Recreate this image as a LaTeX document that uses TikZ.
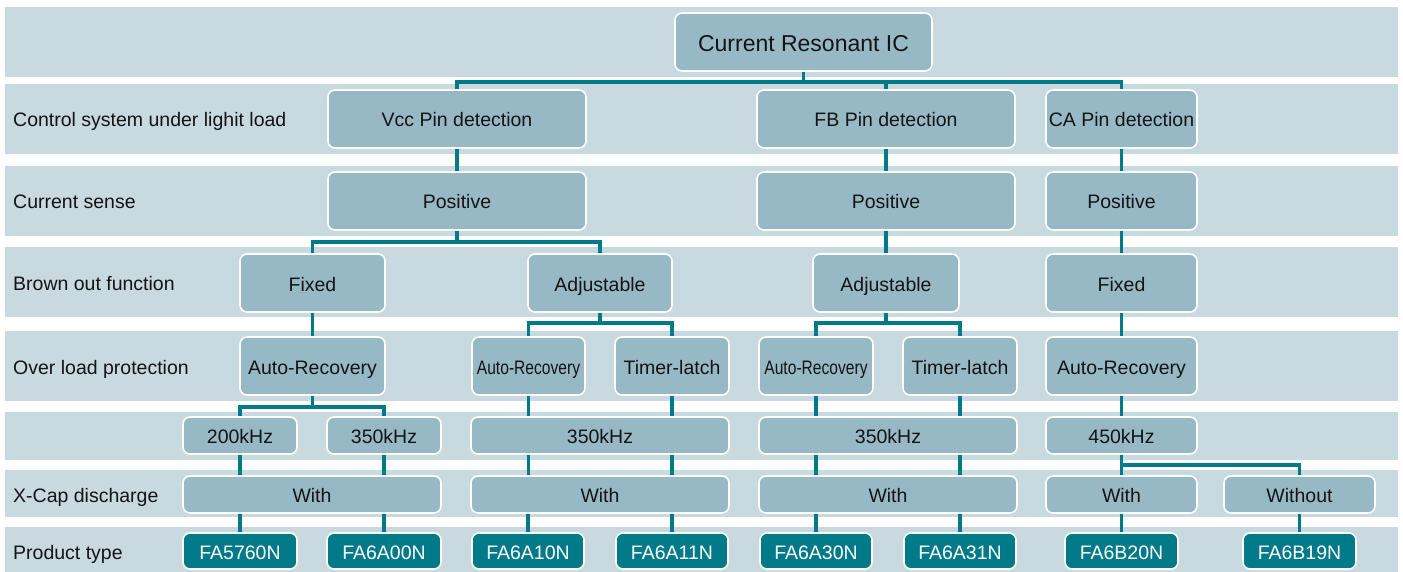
\documentclass[tikz,border=0pt]{standalone}
\usepackage{fontspec}
\usepackage{graphicx}
\setmainfont{Liberation Sans}
\definecolor{bandc}{HTML}{C8D9E0}
\definecolor{boxc}{HTML}{97B9C5}
\definecolor{teal}{HTML}{007A88}
\definecolor{txt}{HTML}{141414}
\tikzset{
  band/.style={fill=bandc, draw=none},
  box/.style={draw=white, line width=1.6pt, fill=boxc, rounded corners=7pt, inner sep=0pt, text=txt, font=\fontsize{19.5}{22}\selectfont, text height=19pt, text depth=3pt},
  prod/.style={draw=white, line width=1.6pt, fill=teal, rounded corners=7pt, inner sep=0pt, text=white, font=\fontsize{19.5}{22}\selectfont, minimum height=36pt, text height=19pt, text depth=3pt},
  conn/.style={draw=teal, line width=3.6pt},
  lbl/.style={anchor=base west, inner sep=0pt, text=txt, font=\fontsize{19.5}{22}\selectfont},
  rowa/.style={minimum height=58pt},
  rowb/.style={minimum height=37pt},
}
\newcommand{\narrow}[1]{\scalebox{0.8}[1]{#1}}
\begin{document}
\begin{tikzpicture}[x=1pt,y=-1pt]
\useasboundingbox (0,0) rectangle (1403,572);
% bands
\fill[band] (5,7) rectangle (1398,77);
\fill[band] (5,84) rectangle (1398,154);
\fill[band] (5,166) rectangle (1398,236);
\fill[band] (5,247) rectangle (1398,317);
\fill[band] (5,331) rectangle (1398,401);
\fill[band] (5,412) rectangle (1398,460);
\fill[band] (5,470) rectangle (1398,517);
\fill[band] (5,527) rectangle (1398,572);
% row labels
\node[lbl] (l1) at (13,127) {Control system under lighit load};
\node[lbl] (l2) at (13,209) {Current sense};
\node[lbl] (l3) at (13,290) {Brown out function};
\node[lbl] (l4) at (13,374) {Over load protection};
\node[lbl] (l5) at (13,502) {X-Cap discharge};
\node[lbl] (l6) at (13,559) {Product type};
% nodes
\node[box, rowa, minimum width=257pt, font=\fontsize{23}{26}\selectfont, text height=22pt, text depth=2pt] (root) at (803.5,42) {Current Resonant IC};
\node[box, rowa, minimum width=258pt] (vcc) at (457,119) {Vcc Pin detection};
\node[box, rowa, minimum width=258pt] (fb) at (886,119) {FB Pin detection};
\node[box, rowa, minimum width=151pt] (ca) at (1121.5,119) {CA Pin detection};
\node[box, rowa, minimum width=258pt] (pos1) at (457,201) {Positive};
\node[box, rowa, minimum width=258pt] (pos2) at (886,201) {Positive};
\node[box, rowa, minimum width=151pt] (pos3) at (1121.5,201) {Positive};
\node[box, rowa, minimum width=145pt] (fix1) at (312.5,283) {Fixed};
\node[box, rowa, minimum width=144pt] (adj1) at (600,283) {Adjustable};
\node[box, rowa, minimum width=146pt] (adj2) at (886,283) {Adjustable};
\node[box, rowa, minimum width=151pt] (fix2) at (1121.5,283) {Fixed};
\node[box, rowa, minimum width=145pt] (ar1) at (312.5,366) {Auto-Recovery};
\node[box, rowa, minimum width=113pt] (ar2) at (528.5,366) {\narrow{Auto-Recovery}};
\node[box, rowa, minimum width=114pt] (tl1) at (672,366) {Timer-latch};
\node[box, rowa, minimum width=114pt] (ar3) at (816,366) {\narrow{Auto-Recovery}};
\node[box, rowa, minimum width=114pt] (tl2) at (960,366) {Timer-latch};
\node[box, rowa, minimum width=151pt] (ar4) at (1121.5,366) {Auto-Recovery};
\node[box, rowb, minimum width=114pt] (f1) at (240,435.5) {200kHz};
\node[box, rowb, minimum width=114pt] (f2) at (384,435.5) {350kHz};
\node[box, rowb, minimum width=258pt] (f3) at (600,435.5) {350kHz};
\node[box, rowb, minimum width=258pt] (f4) at (888,435.5) {350kHz};
\node[box, rowb, minimum width=151pt] (f5) at (1121.5,435.5) {450kHz};
\node[box, rowb, minimum width=258pt] (x1) at (312,494.5) {With};
\node[box, rowb, minimum width=258pt] (x2) at (600,494.5) {With};
\node[box, rowb, minimum width=258pt] (x3) at (888,494.5) {With};
\node[box, rowb, minimum width=151pt] (x4) at (1121.5,494.5) {With};
\node[box, rowb, minimum width=151pt] (x5) at (1299.5,494.5) {Without};
\node[prod, minimum width=114pt] (p1) at (240,551) {FA5760N};
\node[prod, minimum width=114pt] (p2) at (384,551) {FA6A00N};
\node[prod, minimum width=112pt] (p3) at (528,551) {FA6A10N};
\node[prod, minimum width=112pt] (p4) at (672,551) {FA6A11N};
\node[prod, minimum width=112pt] (p5) at (816,551) {FA6A30N};
\node[prod, minimum width=112pt] (p6) at (960,551) {FA6A31N};
\node[prod, minimum width=113pt] (p7) at (1121.5,551) {FA6B20N};
\node[prod, minimum width=113pt] (p8) at (1299.5,551) {FA6B19N};
% bus coordinates
\coordinate (b1) at (0,82);
\coordinate (b2) at (0,242);
\coordinate (b3) at (0,323);
\coordinate (b4) at (0,407);
\coordinate (b5) at (0,465);
% connectors
\draw[conn] (root.south) -- (root.south|-b1);
\draw[conn] (vcc.north) -- (vcc.north|-b1) -- (ca.north|-b1) -- (ca.north);
\draw[conn] (fb.north) -- (fb.north|-b1);
\draw[conn] (vcc.south) -- (pos1.north);
\draw[conn] (fb.south) -- (pos2.north);
\draw[conn] (ca.south) -- (pos3.north);
\draw[conn] (pos1.south) -- (pos1.south|-b2);
\draw[conn] (fix1.north) -- (fix1.north|-b2) -- (adj1.north|-b2) -- (adj1.north);
\draw[conn] (pos2.south) -- (adj2.north);
\draw[conn] (pos3.south) -- (fix2.north);
\draw[conn] (fix1.south) -- (ar1.north);
\draw[conn] (adj1.south) -- (adj1.south|-b3);
\draw[conn] (ar2.north) -- (ar2.north|-b3) -- (tl1.north|-b3) -- (tl1.north);
\draw[conn] (adj2.south) -- (adj2.south|-b3);
\draw[conn] (ar3.north) -- (ar3.north|-b3) -- (tl2.north|-b3) -- (tl2.north);
\draw[conn] (fix2.south) -- (ar4.north);
\draw[conn] (ar1.south) -- (ar1.south|-b4);
\draw[conn] (f1.north) -- (f1.north|-b4) -- (f2.north|-b4) -- (f2.north);
\draw[conn] (ar2.south) -- (ar2.south|-f3.north);
\draw[conn] (tl1.south) -- (tl1.south|-f3.north);
\draw[conn] (ar3.south) -- (ar3.south|-f4.north);
\draw[conn] (tl2.south) -- (tl2.south|-f4.north);
\draw[conn] (ar4.south) -- (f5.north);
\draw[conn] (f1.south) -- (f1.south|-x1.north);
\draw[conn] (f2.south) -- (f2.south|-x1.north);
\draw[conn] (ar2.south|-f3.south) -- (ar2.south|-x2.north);
\draw[conn] (tl1.south|-f3.south) -- (tl1.south|-x2.north);
\draw[conn] (ar3.south|-f4.south) -- (ar3.south|-x3.north);
\draw[conn] (tl2.south|-f4.south) -- (tl2.south|-x3.north);
\draw[conn] (f5.south) -- (f5.south|-b5) -- (x5.north|-b5) -- (x5.north);
\draw[conn] (f5.south|-b5) -- (x4.north);
\draw[conn] (p1.north|-x1.south) -- (p1.north);
\draw[conn] (p2.north|-x1.south) -- (p2.north);
\draw[conn] (p3.north|-x2.south) -- (p3.north);
\draw[conn] (p4.north|-x2.south) -- (p4.north);
\draw[conn] (p5.north|-x3.south) -- (p5.north);
\draw[conn] (p6.north|-x3.south) -- (p6.north);
\draw[conn] (x4.south) -- (p7.north);
\draw[conn] (x5.south) -- (p8.north);
\end{tikzpicture}
\end{document}
